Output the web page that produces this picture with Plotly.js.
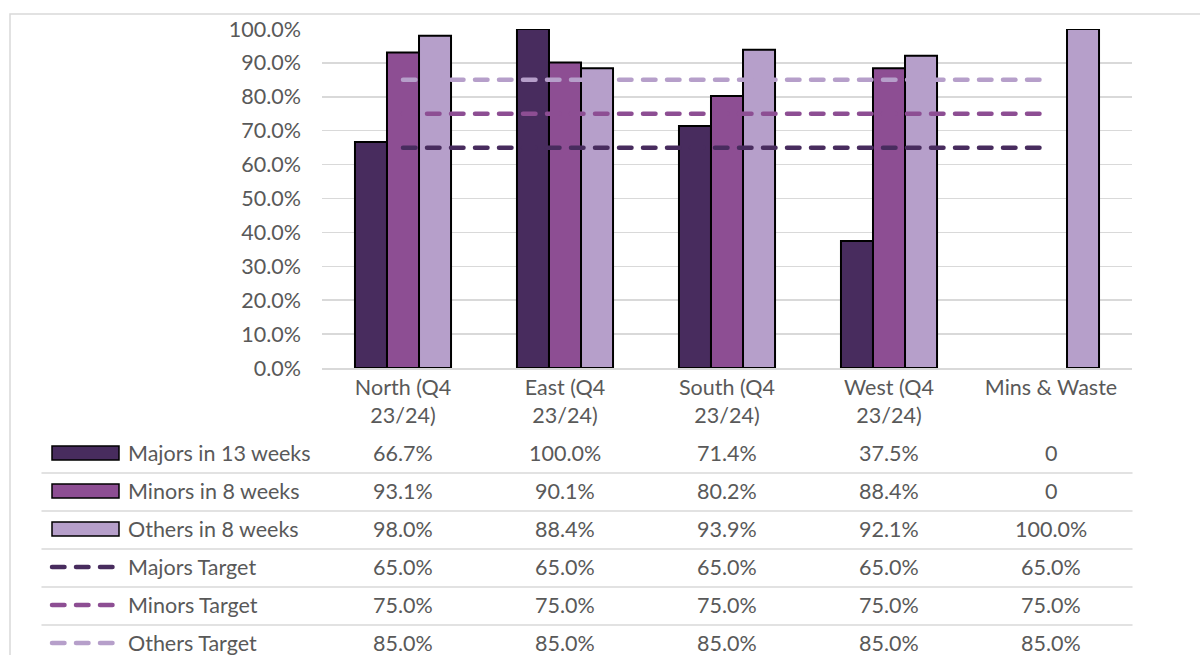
<!DOCTYPE html>
<html>
<head>
<meta charset="utf-8">
<script src="https://cdn.plot.ly/plotly-3.0.1.min.js"></script>
<style>
html,body{margin:0;padding:0;background:#fff;}
#chart{width:1200px;height:655px;}
#chart .scatterlayer path.js-line{stroke-linecap:round;}
#chart .shapelayer path{stroke-linecap:round;}
</style>
</head>
<body>
<div id="chart"></div>
<script>
// ---- data ----
var categories = ["North (Q4<br>23/24)", "East (Q4<br>23/24)", "South (Q4<br>23/24)", "West (Q4<br>23/24)", "Mins & Waste"];
var majors = [0.667, 1.000, 0.714, 0.375, 0];
var minors = [0.931, 0.901, 0.802, 0.884, 0];
var others = [0.980, 0.884, 0.939, 0.921, 1.000];
var majorsTarget = [0.65, 0.65, 0.65, 0.65, 0.65];
var minorsTarget = [0.75, 0.75, 0.75, 0.75, 0.75];
var othersTarget = [0.85, 0.85, 0.85, 0.85, 0.85];
var seriesNames = ["Majors in 13 weeks", "Minors in 8 weeks", "Others in 8 weeks", "Majors Target", "Minors Target", "Others Target"];

// ---- styling ----
var cMaj = "#482C5E", cMin = "#8D4E93", cOth = "#B69FCA";
var textCol = "#595959";
var FONT = "Lato, 'Open Sans', sans-serif";
var FS = 21.5;

var W = 1200, H = 655;
var L = 322, R = 1132, T = 29, B = 368;
function px2x(px){ return (px - L) / (R - L); }
function py2y(py){ return (B - py) / (B - T); }

// zero-height bars are not drawn (no outline at the baseline)
function barVals(arr){ return arr.map(function(v){ return v === 0 ? null : v; }); }

var barLine = {color: "#000000", width: 2};
var dash = "12.5px,11.5px";
var LW = 4.5;
var traces = [
  {type: "bar", x: categories, y: barVals(majors), name: seriesNames[0], marker: {color: cMaj, line: barLine}},
  {type: "bar", x: categories, y: barVals(minors), name: seriesNames[1], marker: {color: cMin, line: barLine}},
  {type: "bar", x: categories, y: barVals(others), name: seriesNames[2], marker: {color: cOth, line: barLine}},
  {type: "scatter", mode: "lines", x: categories, y: majorsTarget, name: seriesNames[3], line: {color: cMaj, width: LW, dash: dash}},
  {type: "scatter", mode: "lines", x: categories, y: minorsTarget, name: seriesNames[4], line: {color: cMin, width: LW, dash: dash}},
  {type: "scatter", mode: "lines", x: categories, y: othersTarget, name: seriesNames[5], line: {color: cOth, width: LW, dash: dash}}
];

function fmt(v){ return v === 0 ? "0" : (v * 100).toFixed(1) + "%"; }

var rows = [majors, minors, others, majorsTarget, minorsTarget, othersTarget];
var rowColors = [cMaj, cMin, cOth, cMaj, cMin, cOth];
var rowY0 = 453, rowH = 38;

var annotations = [];
var shapes = [];

// outer chart border
shapes.push({type: "rect", xref: "paper", yref: "paper", x0: px2x(10), x1: px2x(1215), y0: py2y(14), y1: py2y(680),
  line: {color: "#D9D9D9", width: 1.5}, fillcolor: "rgba(0,0,0,0)", layer: "below"});

for (var r = 0; r < rows.length; r++) {
  var cy = rowY0 + r * rowH;
  for (var c = 0; c < categories.length; c++) {
    annotations.push({xref: "x", yref: "paper", x: c, y: py2y(cy), text: fmt(rows[r][c]), showarrow: false,
      xanchor: "center", yanchor: "middle", font: {family: FONT, size: FS, color: textCol}});
  }
  annotations.push({xref: "paper", yref: "paper", x: px2x(126), y: py2y(cy), text: seriesNames[r], showarrow: false,
    xanchor: "left", yanchor: "middle", font: {family: FONT, size: FS, color: textCol}});
  if (r < 3) {
    shapes.push({type: "rect", xref: "paper", yref: "paper", x0: px2x(52), x1: px2x(119), y0: py2y(cy - 7), y1: py2y(cy + 7),
      fillcolor: rowColors[r], line: {color: "#000000", width: 1.5}});
  } else {
    shapes.push({type: "line", xref: "paper", yref: "paper", x0: px2x(52), x1: px2x(113), y0: py2y(cy), y1: py2y(cy),
      line: {color: rowColors[r], width: LW, dash: dash}});
  }
  if (r < rows.length - 1) {
    var sy = cy + rowH / 2 + 1;
    shapes.push({type: "line", xref: "paper", yref: "paper", x0: px2x(42), x1: px2x(1132), y0: py2y(sy), y1: py2y(sy),
      line: {color: "#D9D9D9", width: 1.5}});
  }
}

var layout = {
  width: W, height: H,
  margin: {l: L, r: W - R, t: T, b: H - B, pad: 0},
  paper_bgcolor: "#ffffff", plot_bgcolor: "#ffffff",
  showlegend: false,
  barmode: "group", bargap: 0.407, bargroupgap: 0,
  font: {family: FONT, size: FS, color: textCol},
  xaxis: {type: "category", showgrid: false, zeroline: false, showline: true, linecolor: "#D9D9D9", linewidth: 1.5,
    ticks: "", tickfont: {family: FONT, size: FS, color: textCol}, ticklabelstandoff: 0, fixedrange: true},
  yaxis: {range: [0, 1], dtick: 0.1, tick0: 0, tickformat: ".1%", showgrid: true, gridcolor: "#D9D9D9", gridwidth: 1.5,
    zeroline: false, showline: false, ticks: "", ticklabelstandoff: 20, tickfont: {family: FONT, size: FS, color: textCol}, fixedrange: true},
  shapes: shapes,
  annotations: annotations
};

Plotly.newPlot("chart", traces, layout, {displayModeBar: false, staticPlot: true});
</script>
</body>
</html>
